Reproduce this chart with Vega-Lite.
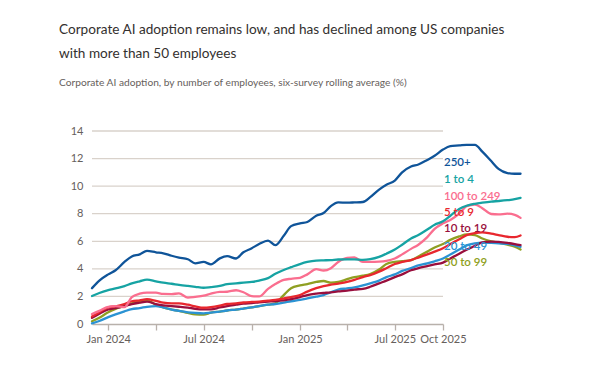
{
  "$schema": "https://vega.github.io/schema/vega-lite/v6.json",
  "width": 351,
  "height": 193,
  "autosize": {"type": "none"},
  "padding": {"left": 92, "top": 131, "right": 159, "bottom": 56},
  "background": "#ffffff",
  "config": {
    "font": "Lato, sans-serif",
    "view": {"stroke": null},
    "axisY": {"domain": false, "ticks": false, "grid": false, "labelColor": "#66605c", "labelFontSize": 11, "labelPadding": 9, "labelOverlap": false, "title": null},
    "axisX": {"grid": false, "domainColor": "#b8b1ab", "domainWidth": 1.3, "tickColor": "#b8b1ab", "tickWidth": 1.3, "tickSize": 6, "labelColor": "#66605c", "labelFontSize": 11, "labelPadding": 3, "labelOverlap": false, "labelFlush": false, "title": null}
  },
  "title": {
    "text": ["Corporate AI adoption remains low, and has declined among US companies", "with more than 50 employees"],
    "subtitle": "Corporate AI adoption, by number of employees, six-survey rolling average (%)",
    "anchor": "start",
    "frame": "group",
    "dx": -33,
    "offset": 37,
    "fontSize": 13.6,
    "fontWeight": "normal",
    "color": "#33302e",
    "lineHeight": 24,
    "subtitleFontSize": 10.2,
    "subtitleColor": "#66605c",
    "subtitlePadding": 17
  },
  "datasets": {
    "gridlines": [
      {"g":2,"d":"2023-12-01"},{"g":2,"d":"2025-10-01"},
      {"g":4,"d":"2023-12-01"},{"g":4,"d":"2025-10-01"},
      {"g":6,"d":"2023-12-01"},{"g":6,"d":"2025-10-01"},
      {"g":8,"d":"2023-12-01"},{"g":8,"d":"2025-10-01"},
      {"g":10,"d":"2023-12-01"},{"g":10,"d":"2025-10-01"},
      {"g":12,"d":"2023-12-01"},{"g":12,"d":"2025-10-01"},
      {"g":14,"d":"2023-12-01"},{"g":14,"d":"2025-10-01"}
    ],
    "series": [
      {"date":"2023-12-01","series":"50 to 99","value":0.2},{"date":"2023-12-15","series":"50 to 99","value":0.45},{"date":"2024-01-01","series":"50 to 99","value":0.85},{"date":"2024-01-15","series":"50 to 99","value":1.1},{"date":"2024-02-01","series":"50 to 99","value":1.3},{"date":"2024-02-15","series":"50 to 99","value":1.5},{"date":"2024-03-01","series":"50 to 99","value":1.65},{"date":"2024-03-15","series":"50 to 99","value":1.72},{"date":"2024-04-01","series":"50 to 99","value":1.4},{"date":"2024-04-15","series":"50 to 99","value":1.2},{"date":"2024-05-01","series":"50 to 99","value":1.05},{"date":"2024-05-15","series":"50 to 99","value":0.95},{"date":"2024-06-01","series":"50 to 99","value":0.8},{"date":"2024-06-15","series":"50 to 99","value":0.7},{"date":"2024-07-01","series":"50 to 99","value":0.68},{"date":"2024-07-15","series":"50 to 99","value":0.82},{"date":"2024-08-01","series":"50 to 99","value":0.9},{"date":"2024-08-15","series":"50 to 99","value":0.98},{"date":"2024-09-01","series":"50 to 99","value":1.05},{"date":"2024-09-15","series":"50 to 99","value":1.12},{"date":"2024-10-01","series":"50 to 99","value":1.2},{"date":"2024-10-15","series":"50 to 99","value":1.3},{"date":"2024-11-01","series":"50 to 99","value":1.4},{"date":"2024-11-15","series":"50 to 99","value":1.5},{"date":"2024-12-01","series":"50 to 99","value":2.1},{"date":"2024-12-15","series":"50 to 99","value":2.6},{"date":"2025-01-01","series":"50 to 99","value":2.8},{"date":"2025-01-15","series":"50 to 99","value":2.9},{"date":"2025-02-01","series":"50 to 99","value":3.05},{"date":"2025-02-15","series":"50 to 99","value":3.12},{"date":"2025-03-01","series":"50 to 99","value":3.0},{"date":"2025-03-15","series":"50 to 99","value":3.05},{"date":"2025-04-01","series":"50 to 99","value":3.25},{"date":"2025-04-15","series":"50 to 99","value":3.4},{"date":"2025-05-01","series":"50 to 99","value":3.5},{"date":"2025-05-15","series":"50 to 99","value":3.62},{"date":"2025-06-01","series":"50 to 99","value":3.95},{"date":"2025-06-15","series":"50 to 99","value":4.35},{"date":"2025-07-01","series":"50 to 99","value":4.5},{"date":"2025-07-15","series":"50 to 99","value":4.56},{"date":"2025-08-01","series":"50 to 99","value":4.64},{"date":"2025-08-15","series":"50 to 99","value":4.9},{"date":"2025-09-01","series":"50 to 99","value":5.25},{"date":"2025-09-15","series":"50 to 99","value":5.55},{"date":"2025-10-01","series":"50 to 99","value":5.8},{"date":"2025-10-15","series":"50 to 99","value":6.1},{"date":"2025-11-01","series":"50 to 99","value":6.35},{"date":"2025-11-15","series":"50 to 99","value":6.5},{"date":"2025-12-01","series":"50 to 99","value":6.45},{"date":"2025-12-15","series":"50 to 99","value":6.2},{"date":"2026-01-01","series":"50 to 99","value":6.0},{"date":"2026-01-15","series":"50 to 99","value":5.9},{"date":"2026-02-01","series":"50 to 99","value":5.75},{"date":"2026-02-15","series":"50 to 99","value":5.6},{"date":"2026-02-26","series":"50 to 99","value":5.4},
      {"date":"2023-12-01","series":"20 to 49","value":0.05},{"date":"2023-12-15","series":"20 to 49","value":0.22},{"date":"2024-01-01","series":"20 to 49","value":0.5},{"date":"2024-01-15","series":"20 to 49","value":0.7},{"date":"2024-02-01","series":"20 to 49","value":0.92},{"date":"2024-02-15","series":"20 to 49","value":1.08},{"date":"2024-03-01","series":"20 to 49","value":1.15},{"date":"2024-03-15","series":"20 to 49","value":1.25},{"date":"2024-04-01","series":"20 to 49","value":1.3},{"date":"2024-04-15","series":"20 to 49","value":1.2},{"date":"2024-05-01","series":"20 to 49","value":1.05},{"date":"2024-05-15","series":"20 to 49","value":0.95},{"date":"2024-06-01","series":"20 to 49","value":0.85},{"date":"2024-06-15","series":"20 to 49","value":0.8},{"date":"2024-07-01","series":"20 to 49","value":0.77},{"date":"2024-07-15","series":"20 to 49","value":0.82},{"date":"2024-08-01","series":"20 to 49","value":0.9},{"date":"2024-08-15","series":"20 to 49","value":0.98},{"date":"2024-09-01","series":"20 to 49","value":1.05},{"date":"2024-09-15","series":"20 to 49","value":1.12},{"date":"2024-10-01","series":"20 to 49","value":1.2},{"date":"2024-10-15","series":"20 to 49","value":1.3},{"date":"2024-11-01","series":"20 to 49","value":1.4},{"date":"2024-11-15","series":"20 to 49","value":1.45},{"date":"2024-12-01","series":"20 to 49","value":1.55},{"date":"2024-12-15","series":"20 to 49","value":1.65},{"date":"2025-01-01","series":"20 to 49","value":1.75},{"date":"2025-01-15","series":"20 to 49","value":1.85},{"date":"2025-02-01","series":"20 to 49","value":1.98},{"date":"2025-02-15","series":"20 to 49","value":2.1},{"date":"2025-03-01","series":"20 to 49","value":2.3},{"date":"2025-03-15","series":"20 to 49","value":2.5},{"date":"2025-04-01","series":"20 to 49","value":2.58},{"date":"2025-04-15","series":"20 to 49","value":2.66},{"date":"2025-05-01","series":"20 to 49","value":2.8},{"date":"2025-05-15","series":"20 to 49","value":2.95},{"date":"2025-06-01","series":"20 to 49","value":3.15},{"date":"2025-06-15","series":"20 to 49","value":3.4},{"date":"2025-07-01","series":"20 to 49","value":3.6},{"date":"2025-07-15","series":"20 to 49","value":3.85},{"date":"2025-08-01","series":"20 to 49","value":4.05},{"date":"2025-08-15","series":"20 to 49","value":4.25},{"date":"2025-09-01","series":"20 to 49","value":4.4},{"date":"2025-09-15","series":"20 to 49","value":4.55},{"date":"2025-10-01","series":"20 to 49","value":4.75},{"date":"2025-10-15","series":"20 to 49","value":5.05},{"date":"2025-11-01","series":"20 to 49","value":5.4},{"date":"2025-11-15","series":"20 to 49","value":5.7},{"date":"2025-12-01","series":"20 to 49","value":5.85},{"date":"2025-12-15","series":"20 to 49","value":5.9},{"date":"2026-01-01","series":"20 to 49","value":5.88},{"date":"2026-01-15","series":"20 to 49","value":5.85},{"date":"2026-02-01","series":"20 to 49","value":5.82},{"date":"2026-02-15","series":"20 to 49","value":5.7},{"date":"2026-02-26","series":"20 to 49","value":5.6},
      {"date":"2023-12-01","series":"10 to 19","value":0.45},{"date":"2023-12-15","series":"10 to 19","value":0.75},{"date":"2024-01-01","series":"10 to 19","value":1.05},{"date":"2024-01-15","series":"10 to 19","value":1.15},{"date":"2024-02-01","series":"10 to 19","value":1.3},{"date":"2024-02-15","series":"10 to 19","value":1.45},{"date":"2024-03-01","series":"10 to 19","value":1.55},{"date":"2024-03-15","series":"10 to 19","value":1.62},{"date":"2024-04-01","series":"10 to 19","value":1.45},{"date":"2024-04-15","series":"10 to 19","value":1.35},{"date":"2024-05-01","series":"10 to 19","value":1.3},{"date":"2024-05-15","series":"10 to 19","value":1.25},{"date":"2024-06-01","series":"10 to 19","value":1.18},{"date":"2024-06-15","series":"10 to 19","value":1.1},{"date":"2024-07-01","series":"10 to 19","value":1.06},{"date":"2024-07-15","series":"10 to 19","value":1.06},{"date":"2024-08-01","series":"10 to 19","value":1.2},{"date":"2024-08-15","series":"10 to 19","value":1.3},{"date":"2024-09-01","series":"10 to 19","value":1.4},{"date":"2024-09-15","series":"10 to 19","value":1.48},{"date":"2024-10-01","series":"10 to 19","value":1.52},{"date":"2024-10-15","series":"10 to 19","value":1.57},{"date":"2024-11-01","series":"10 to 19","value":1.62},{"date":"2024-11-15","series":"10 to 19","value":1.66},{"date":"2024-12-01","series":"10 to 19","value":1.72},{"date":"2024-12-15","series":"10 to 19","value":1.8},{"date":"2025-01-01","series":"10 to 19","value":1.95},{"date":"2025-01-15","series":"10 to 19","value":2.1},{"date":"2025-02-01","series":"10 to 19","value":2.2},{"date":"2025-02-15","series":"10 to 19","value":2.25},{"date":"2025-03-01","series":"10 to 19","value":2.3},{"date":"2025-03-15","series":"10 to 19","value":2.36},{"date":"2025-04-01","series":"10 to 19","value":2.42},{"date":"2025-04-15","series":"10 to 19","value":2.5},{"date":"2025-05-01","series":"10 to 19","value":2.55},{"date":"2025-05-15","series":"10 to 19","value":2.7},{"date":"2025-06-01","series":"10 to 19","value":2.95},{"date":"2025-06-15","series":"10 to 19","value":3.15},{"date":"2025-07-01","series":"10 to 19","value":3.4},{"date":"2025-07-15","series":"10 to 19","value":3.6},{"date":"2025-08-01","series":"10 to 19","value":3.9},{"date":"2025-08-15","series":"10 to 19","value":4.05},{"date":"2025-09-01","series":"10 to 19","value":4.2},{"date":"2025-09-15","series":"10 to 19","value":4.32},{"date":"2025-10-01","series":"10 to 19","value":4.45},{"date":"2025-10-15","series":"10 to 19","value":4.75},{"date":"2025-11-01","series":"10 to 19","value":5.1},{"date":"2025-11-15","series":"10 to 19","value":5.38},{"date":"2025-12-01","series":"10 to 19","value":5.68},{"date":"2025-12-15","series":"10 to 19","value":5.92},{"date":"2026-01-01","series":"10 to 19","value":5.98},{"date":"2026-01-15","series":"10 to 19","value":5.95},{"date":"2026-02-01","series":"10 to 19","value":5.88},{"date":"2026-02-15","series":"10 to 19","value":5.8},{"date":"2026-02-26","series":"10 to 19","value":5.72},
      {"date":"2023-12-01","series":"5 to 9","value":0.55},{"date":"2023-12-15","series":"5 to 9","value":0.85},{"date":"2024-01-01","series":"5 to 9","value":1.2},{"date":"2024-01-15","series":"5 to 9","value":1.28},{"date":"2024-02-01","series":"5 to 9","value":1.45},{"date":"2024-02-15","series":"5 to 9","value":1.65},{"date":"2024-03-01","series":"5 to 9","value":1.72},{"date":"2024-03-15","series":"5 to 9","value":1.8},{"date":"2024-04-01","series":"5 to 9","value":1.68},{"date":"2024-04-15","series":"5 to 9","value":1.55},{"date":"2024-05-01","series":"5 to 9","value":1.5},{"date":"2024-05-15","series":"5 to 9","value":1.5},{"date":"2024-06-01","series":"5 to 9","value":1.4},{"date":"2024-06-15","series":"5 to 9","value":1.28},{"date":"2024-07-01","series":"5 to 9","value":1.18},{"date":"2024-07-15","series":"5 to 9","value":1.22},{"date":"2024-08-01","series":"5 to 9","value":1.33},{"date":"2024-08-15","series":"5 to 9","value":1.45},{"date":"2024-09-01","series":"5 to 9","value":1.5},{"date":"2024-09-15","series":"5 to 9","value":1.56},{"date":"2024-10-01","series":"5 to 9","value":1.6},{"date":"2024-10-15","series":"5 to 9","value":1.63},{"date":"2024-11-01","series":"5 to 9","value":1.69},{"date":"2024-11-15","series":"5 to 9","value":1.75},{"date":"2024-12-01","series":"5 to 9","value":1.85},{"date":"2024-12-15","series":"5 to 9","value":1.95},{"date":"2025-01-01","series":"5 to 9","value":2.1},{"date":"2025-01-15","series":"5 to 9","value":2.35},{"date":"2025-02-01","series":"5 to 9","value":2.6},{"date":"2025-02-15","series":"5 to 9","value":2.75},{"date":"2025-03-01","series":"5 to 9","value":2.85},{"date":"2025-03-15","series":"5 to 9","value":2.93},{"date":"2025-04-01","series":"5 to 9","value":3.05},{"date":"2025-04-15","series":"5 to 9","value":3.2},{"date":"2025-05-01","series":"5 to 9","value":3.4},{"date":"2025-05-15","series":"5 to 9","value":3.55},{"date":"2025-06-01","series":"5 to 9","value":3.8},{"date":"2025-06-15","series":"5 to 9","value":4.05},{"date":"2025-07-01","series":"5 to 9","value":4.35},{"date":"2025-07-15","series":"5 to 9","value":4.5},{"date":"2025-08-01","series":"5 to 9","value":4.64},{"date":"2025-08-15","series":"5 to 9","value":4.82},{"date":"2025-09-01","series":"5 to 9","value":5.05},{"date":"2025-09-15","series":"5 to 9","value":5.25},{"date":"2025-10-01","series":"5 to 9","value":5.5},{"date":"2025-10-15","series":"5 to 9","value":5.8},{"date":"2025-11-01","series":"5 to 9","value":6.15},{"date":"2025-11-15","series":"5 to 9","value":6.45},{"date":"2025-12-01","series":"5 to 9","value":6.6},{"date":"2025-12-15","series":"5 to 9","value":6.65},{"date":"2026-01-01","series":"5 to 9","value":6.55},{"date":"2026-01-15","series":"5 to 9","value":6.45},{"date":"2026-02-01","series":"5 to 9","value":6.33},{"date":"2026-02-15","series":"5 to 9","value":6.3},{"date":"2026-02-26","series":"5 to 9","value":6.42},
      {"date":"2023-12-01","series":"100 to 249","value":0.72},{"date":"2023-12-15","series":"100 to 249","value":0.95},{"date":"2024-01-01","series":"100 to 249","value":1.25},{"date":"2024-01-15","series":"100 to 249","value":1.3},{"date":"2024-02-01","series":"100 to 249","value":1.22},{"date":"2024-02-15","series":"100 to 249","value":1.95},{"date":"2024-03-01","series":"100 to 249","value":2.2},{"date":"2024-03-15","series":"100 to 249","value":2.28},{"date":"2024-04-01","series":"100 to 249","value":2.27},{"date":"2024-04-15","series":"100 to 249","value":2.18},{"date":"2024-05-01","series":"100 to 249","value":2.17},{"date":"2024-05-15","series":"100 to 249","value":2.22},{"date":"2024-06-01","series":"100 to 249","value":1.92},{"date":"2024-06-15","series":"100 to 249","value":1.97},{"date":"2024-07-01","series":"100 to 249","value":2.05},{"date":"2024-07-15","series":"100 to 249","value":2.2},{"date":"2024-08-01","series":"100 to 249","value":2.33},{"date":"2024-08-15","series":"100 to 249","value":2.34},{"date":"2024-09-01","series":"100 to 249","value":2.45},{"date":"2024-09-15","series":"100 to 249","value":2.3},{"date":"2024-10-01","series":"100 to 249","value":2.02},{"date":"2024-10-15","series":"100 to 249","value":2.0},{"date":"2024-11-01","series":"100 to 249","value":2.55},{"date":"2024-11-15","series":"100 to 249","value":2.9},{"date":"2024-12-01","series":"100 to 249","value":3.2},{"date":"2024-12-15","series":"100 to 249","value":3.28},{"date":"2025-01-01","series":"100 to 249","value":3.35},{"date":"2025-01-15","series":"100 to 249","value":3.6},{"date":"2025-02-01","series":"100 to 249","value":3.98},{"date":"2025-02-15","series":"100 to 249","value":3.88},{"date":"2025-03-01","series":"100 to 249","value":4.05},{"date":"2025-03-15","series":"100 to 249","value":4.5},{"date":"2025-04-01","series":"100 to 249","value":4.8},{"date":"2025-04-15","series":"100 to 249","value":4.83},{"date":"2025-05-01","series":"100 to 249","value":4.5},{"date":"2025-05-15","series":"100 to 249","value":4.5},{"date":"2025-06-01","series":"100 to 249","value":4.52},{"date":"2025-06-15","series":"100 to 249","value":4.58},{"date":"2025-07-01","series":"100 to 249","value":4.75},{"date":"2025-07-15","series":"100 to 249","value":5.05},{"date":"2025-08-01","series":"100 to 249","value":5.45},{"date":"2025-08-15","series":"100 to 249","value":5.75},{"date":"2025-09-01","series":"100 to 249","value":6.3},{"date":"2025-09-15","series":"100 to 249","value":6.9},{"date":"2025-10-01","series":"100 to 249","value":7.3},{"date":"2025-10-15","series":"100 to 249","value":7.55},{"date":"2025-11-01","series":"100 to 249","value":8.0},{"date":"2025-11-15","series":"100 to 249","value":8.55},{"date":"2025-12-01","series":"100 to 249","value":8.67},{"date":"2025-12-15","series":"100 to 249","value":8.4},{"date":"2026-01-01","series":"100 to 249","value":7.98},{"date":"2026-01-15","series":"100 to 249","value":7.95},{"date":"2026-02-01","series":"100 to 249","value":8.0},{"date":"2026-02-15","series":"100 to 249","value":7.92},{"date":"2026-02-26","series":"100 to 249","value":7.7},
      {"date":"2023-12-01","series":"1 to 4","value":2.03},{"date":"2023-12-15","series":"1 to 4","value":2.25},{"date":"2024-01-01","series":"1 to 4","value":2.45},{"date":"2024-01-15","series":"1 to 4","value":2.58},{"date":"2024-02-01","series":"1 to 4","value":2.75},{"date":"2024-02-15","series":"1 to 4","value":2.95},{"date":"2024-03-01","series":"1 to 4","value":3.1},{"date":"2024-03-15","series":"1 to 4","value":3.22},{"date":"2024-04-01","series":"1 to 4","value":3.1},{"date":"2024-04-15","series":"1 to 4","value":3.0},{"date":"2024-05-01","series":"1 to 4","value":2.92},{"date":"2024-05-15","series":"1 to 4","value":2.84},{"date":"2024-06-01","series":"1 to 4","value":2.76},{"date":"2024-06-15","series":"1 to 4","value":2.7},{"date":"2024-07-01","series":"1 to 4","value":2.63},{"date":"2024-07-15","series":"1 to 4","value":2.68},{"date":"2024-08-01","series":"1 to 4","value":2.76},{"date":"2024-08-15","series":"1 to 4","value":2.9},{"date":"2024-09-01","series":"1 to 4","value":2.95},{"date":"2024-09-15","series":"1 to 4","value":3.0},{"date":"2024-10-01","series":"1 to 4","value":3.05},{"date":"2024-10-15","series":"1 to 4","value":3.15},{"date":"2024-11-01","series":"1 to 4","value":3.33},{"date":"2024-11-15","series":"1 to 4","value":3.65},{"date":"2024-12-01","series":"1 to 4","value":3.92},{"date":"2024-12-15","series":"1 to 4","value":4.12},{"date":"2025-01-01","series":"1 to 4","value":4.35},{"date":"2025-01-15","series":"1 to 4","value":4.5},{"date":"2025-02-01","series":"1 to 4","value":4.6},{"date":"2025-02-15","series":"1 to 4","value":4.62},{"date":"2025-03-01","series":"1 to 4","value":4.64},{"date":"2025-03-15","series":"1 to 4","value":4.68},{"date":"2025-04-01","series":"1 to 4","value":4.69},{"date":"2025-04-15","series":"1 to 4","value":4.69},{"date":"2025-05-01","series":"1 to 4","value":4.65},{"date":"2025-05-15","series":"1 to 4","value":4.7},{"date":"2025-06-01","series":"1 to 4","value":4.87},{"date":"2025-06-15","series":"1 to 4","value":5.1},{"date":"2025-07-01","series":"1 to 4","value":5.4},{"date":"2025-07-15","series":"1 to 4","value":5.75},{"date":"2025-08-01","series":"1 to 4","value":6.2},{"date":"2025-08-15","series":"1 to 4","value":6.45},{"date":"2025-09-01","series":"1 to 4","value":6.85},{"date":"2025-09-15","series":"1 to 4","value":7.2},{"date":"2025-10-01","series":"1 to 4","value":7.45},{"date":"2025-10-15","series":"1 to 4","value":7.85},{"date":"2025-11-01","series":"1 to 4","value":8.35},{"date":"2025-11-15","series":"1 to 4","value":8.58},{"date":"2025-12-01","series":"1 to 4","value":8.72},{"date":"2025-12-15","series":"1 to 4","value":8.8},{"date":"2026-01-01","series":"1 to 4","value":8.88},{"date":"2026-01-15","series":"1 to 4","value":8.92},{"date":"2026-02-01","series":"1 to 4","value":8.98},{"date":"2026-02-15","series":"1 to 4","value":9.05},{"date":"2026-02-26","series":"1 to 4","value":9.15},
      {"date":"2023-12-01","series":"250+","value":2.6},{"date":"2023-12-15","series":"250+","value":3.15},{"date":"2024-01-01","series":"250+","value":3.6},{"date":"2024-01-15","series":"250+","value":3.9},{"date":"2024-02-01","series":"250+","value":4.5},{"date":"2024-02-15","series":"250+","value":4.9},{"date":"2024-03-01","series":"250+","value":5.05},{"date":"2024-03-15","series":"250+","value":5.3},{"date":"2024-04-01","series":"250+","value":5.2},{"date":"2024-04-15","series":"250+","value":5.13},{"date":"2024-05-01","series":"250+","value":4.95},{"date":"2024-05-15","series":"250+","value":4.82},{"date":"2024-06-01","series":"250+","value":4.7},{"date":"2024-06-15","series":"250+","value":4.4},{"date":"2024-07-01","series":"250+","value":4.5},{"date":"2024-07-15","series":"250+","value":4.33},{"date":"2024-08-01","series":"250+","value":4.76},{"date":"2024-08-15","series":"250+","value":4.92},{"date":"2024-09-01","series":"250+","value":4.75},{"date":"2024-09-15","series":"250+","value":5.2},{"date":"2024-10-01","series":"250+","value":5.5},{"date":"2024-10-15","series":"250+","value":5.8},{"date":"2024-11-01","series":"250+","value":6.05},{"date":"2024-11-15","series":"250+","value":5.72},{"date":"2024-12-01","series":"250+","value":6.4},{"date":"2024-12-15","series":"250+","value":7.1},{"date":"2025-01-01","series":"250+","value":7.3},{"date":"2025-01-15","series":"250+","value":7.4},{"date":"2025-02-01","series":"250+","value":7.85},{"date":"2025-02-15","series":"250+","value":8.05},{"date":"2025-03-01","series":"250+","value":8.55},{"date":"2025-03-15","series":"250+","value":8.82},{"date":"2025-04-01","series":"250+","value":8.8},{"date":"2025-04-15","series":"250+","value":8.82},{"date":"2025-05-01","series":"250+","value":8.85},{"date":"2025-05-15","series":"250+","value":9.2},{"date":"2025-06-01","series":"250+","value":9.75},{"date":"2025-06-15","series":"250+","value":10.1},{"date":"2025-07-01","series":"250+","value":10.4},{"date":"2025-07-15","series":"250+","value":11.0},{"date":"2025-08-01","series":"250+","value":11.42},{"date":"2025-08-15","series":"250+","value":11.57},{"date":"2025-09-01","series":"250+","value":11.9},{"date":"2025-09-15","series":"250+","value":12.2},{"date":"2025-10-01","series":"250+","value":12.65},{"date":"2025-10-15","series":"250+","value":12.9},{"date":"2025-11-01","series":"250+","value":12.95},{"date":"2025-11-15","series":"250+","value":13.0},{"date":"2025-12-01","series":"250+","value":13.0},{"date":"2025-12-15","series":"250+","value":12.5},{"date":"2026-01-01","series":"250+","value":11.82},{"date":"2026-01-15","series":"250+","value":11.25},{"date":"2026-02-01","series":"250+","value":10.95},{"date":"2026-02-15","series":"250+","value":10.9},{"date":"2026-02-26","series":"250+","value":10.9}
    ],
    "labels": [
      {"series":"250+","v":11.67},
      {"series":"1 to 4","v":10.43},
      {"series":"100 to 249","v":9.22},
      {"series":"5 to 9","v":8.02},
      {"series":"10 to 19","v":6.86},
      {"series":"20 to 49","v":5.6},
      {"series":"50 to 99","v":4.4}
    ]
  },
  "layer": [
    {
      "data": {"name": "gridlines"},
      "mark": {"type": "line", "color": "#d9d2cb", "strokeWidth": 1.3, "interpolate": "linear"},
      "encoding": {
        "x": {"field": "d", "type": "temporal"},
        "y": {"field": "g", "type": "quantitative", "scale": {"domain": [0, 14], "nice": false}, "axis": {"values": [0, 2, 4, 6, 8, 10, 12, 14]}},
        "detail": {"field": "g", "type": "nominal"}
      }
    },
    {
      "data": {"name": "series"},
      "mark": {"type": "line", "strokeWidth": 2.3, "interpolate": "monotone", "clip": false, "strokeCap": "round", "strokeJoin": "round"},
      "encoding": {
        "x": {
          "field": "date",
          "type": "temporal",
          "scale": {"type": "utc", "domain": [{"year": 2023, "month": 12, "date": 1, "utc": true}, {"year": 2025, "month": 10, "date": 1, "utc": true}]},
          "axis": {
            "values": [
              {"year": 2024, "month": 1, "date": 1, "utc": true},
              {"year": 2024, "month": 4, "date": 1, "utc": true},
              {"year": 2024, "month": 7, "date": 1, "utc": true},
              {"year": 2024, "month": 10, "date": 1, "utc": true},
              {"year": 2025, "month": 1, "date": 1, "utc": true},
              {"year": 2025, "month": 4, "date": 1, "utc": true},
              {"year": 2025, "month": 7, "date": 1, "utc": true},
              {"year": 2025, "month": 10, "date": 1, "utc": true}
            ],
            "labelExpr": "(utcmonth(datum.value) == 0 || utcmonth(datum.value) == 6 || (utcyear(datum.value) == 2025 && utcmonth(datum.value) == 9)) ? utcFormat(datum.value, '%b %Y') : ''"
          }
        },
        "y": {
          "field": "value",
          "type": "quantitative",
          "scale": {"domain": [0, 14], "nice": false},
          "axis": {"values": [0, 2, 4, 6, 8, 10, 12, 14]}
        },
        "color": {
          "field": "series",
          "type": "nominal",
          "legend": null,
          "scale": {
            "domain": ["250+", "1 to 4", "100 to 249", "5 to 9", "10 to 19", "20 to 49", "50 to 99"],
            "range": ["#0f5499", "#16a3a3", "#fa6e8f", "#e8272e", "#990f3d", "#2b93d3", "#8f9f22"]
          }
        }
      }
    },
    {
      "data": {"name": "labels"},
      "mark": {"type": "text", "align": "left", "baseline": "middle", "dx": 1, "fontSize": 11.5, "fontWeight": 600},
      "encoding": {
        "x": {"datum": {"year": 2025, "month": 10, "date": 1, "utc": true}, "type": "temporal"},
        "y": {"field": "v", "type": "quantitative", "axis": {"values": [0, 2, 4, 6, 8, 10, 12, 14]}},
        "text": {"field": "series"},
        "color": {"field": "series", "type": "nominal", "legend": null}
      }
    }
  ]
}
